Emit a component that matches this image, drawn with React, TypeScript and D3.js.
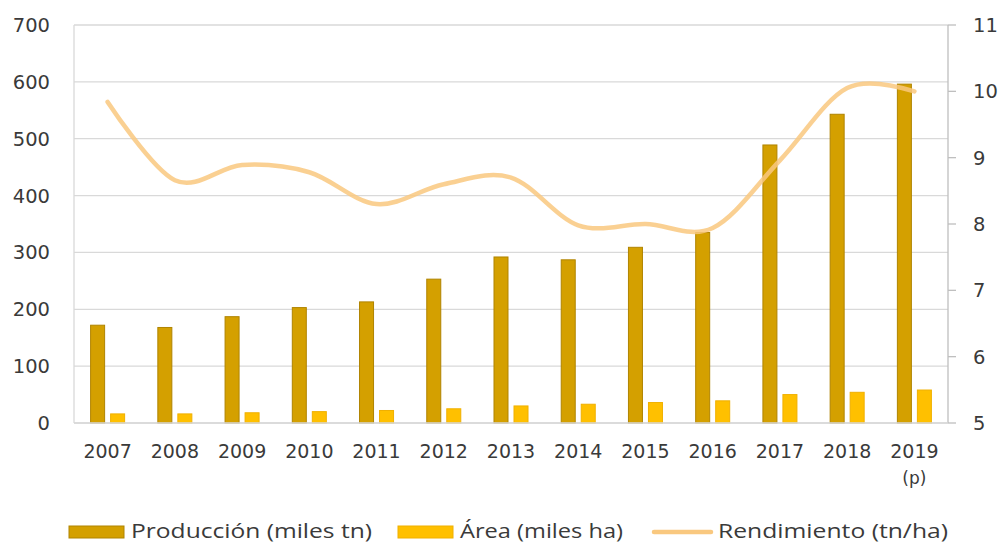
import React from 'react';
import * as d3 from 'd3';

const years = ['2007', '2008', '2009', '2010', '2011', '2012', '2013', '2014', '2015', '2016', '2017', '2018', '2019'];
const produccion = [172, 168, 187, 203, 213, 253, 292, 287, 309, 335, 489, 543, 596];
const area = [16, 16, 18, 20, 22, 25, 30, 33, 36, 39, 50, 54, 58];
const rendimiento = [9.84, 8.66, 8.89, 8.78, 8.3, 8.6, 8.7, 7.98, 8.0, 7.94, 8.96, 10.05, 10.0];
const leftTicks = [0, 100, 200, 300, 400, 500, 600, 700];
const rightTicks = [5, 6, 7, 8, 9, 10, 11];

const width = 1000;
const height = 544;
const margin = { top: 25, right: 52, bottom: 121, left: 74 };

const App = () => {
  const x = d3.scaleBand<string>().domain(years).range([margin.left, width - margin.right]).padding(0);
  const inner = d3
    .scaleBand<string>()
    .domain(['prod', 'area'])
    .range([0, x.bandwidth()])
    .paddingInner(0.3)
    .paddingOuter(0.83);
  const yLeft = d3.scaleLinear().domain([0, 700]).range([height - margin.bottom, margin.top]);
  const yRight = d3.scaleLinear().domain([5, 11]).range([height - margin.bottom, margin.top]);

  // smoothed line like the spreadsheet's "smooth line" option
  const line = d3
    .line<number>()
    .x((_, i) => (x(years[i]) as number) + x.bandwidth() / 2)
    .y((d) => yRight(d))
    .curve(d3.curveCardinal.tension(0));

  const x0 = margin.left;
  const x1 = width - margin.right;
  const yBase = yLeft(0);
  const textColor = '#3a3a3a';
  const axisFont = 'DejaVu Sans, Verdana, sans-serif';
  const legendFont = 'Open Sans, Noto Sans, sans-serif';

  return (
    <svg width={width} height={height} style={{ position: 'absolute', left: 0, top: 0, background: '#fff' }}>
      {/* gridlines */}
      {leftTicks.map((t) => (
        <line key={'g' + t} x1={x0} x2={x1} y1={yLeft(t)} y2={yLeft(t)} stroke="#d9d9d9" strokeWidth={1.3} />
      ))}
      <line x1={x0} x2={x0} y1={margin.top} y2={yBase} stroke="#d9d9d9" strokeWidth={1.3} />
      {/* right axis */}
      <line x1={x1} x2={x1} y1={margin.top} y2={yBase} stroke="#bfbfbf" strokeWidth={1.3} />
      {rightTicks.map((t) => (
        <g key={'r' + t}>
          <line x1={x1} x2={x1 + 8} y1={yRight(t)} y2={yRight(t)} stroke="#bfbfbf" strokeWidth={1.3} />
          <text x={973} y={yRight(t)} dy="0.36em" fontSize={19.5} fill={textColor} fontFamily={axisFont}>
            {t}
          </text>
        </g>
      ))}
      {/* left axis labels */}
      {leftTicks.map((t) => (
        <text key={'l' + t} x={50} y={yLeft(t)} dy="0.36em" textAnchor="end" fontSize={19.5} fill={textColor} fontFamily={axisFont}>
          {t}
        </text>
      ))}

      {/* bars */}
      {years.map((yr, i) => (
        <g key={'b' + yr}>
          <rect
            x={(x(yr) as number) + (inner('prod') as number)}
            y={yLeft(produccion[i])}
            width={inner.bandwidth()}
            height={yBase - yLeft(produccion[i])}
            fill="#d4a000"
            stroke="#b08400"
            strokeWidth={1}
          />
          <rect
            x={(x(yr) as number) + (inner('area') as number)}
            y={yLeft(area[i])}
            width={inner.bandwidth()}
            height={yBase - yLeft(area[i])}
            fill="#ffc000"
            stroke="#f0b000"
            strokeWidth={1}
          />
        </g>
      ))}
      <line x1={x0} x2={x1} y1={yBase} y2={yBase} stroke="#d9d9d9" strokeWidth={1.3} />

      {/* rendimiento line */}
      <path d={line(rendimiento) || ''} fill="none" stroke="#f9c87f" strokeOpacity={0.85} strokeWidth={4.5} strokeLinecap="round" />

      {/* x labels */}
      {years.map((yr) => (
        <text
          key={'x' + yr}
          x={(x(yr) as number) + x.bandwidth() / 2}
          y={458}
          textAnchor="middle"
          fontSize={19}
          fill={textColor}
          fontFamily={axisFont}
        >
          {yr}
        </text>
      ))}
      <text
        x={(x('2019') as number) + x.bandwidth() / 2}
        y={484}
        textAnchor="middle"
        fontSize={17}
        fill={textColor}
        fontFamily={axisFont}
      >
        (p)
      </text>

      {/* legend */}
      <rect x={69} y={526} width={55} height={12} fill="#d4a000" stroke="#b08400" strokeWidth={1} />
      <text x={131} y={538} fontSize={20} fill={textColor} fontFamily={legendFont} textLength={241} lengthAdjust="spacingAndGlyphs">
        Producción (miles tn)
      </text>
      <rect x={398} y={526} width={55} height={12} fill="#ffc000" stroke="#f0b000" strokeWidth={1} />
      <text x={460} y={538} fontSize={20} fill={textColor} fontFamily={legendFont} textLength={163} lengthAdjust="spacingAndGlyphs">
        Área (miles ha)
      </text>
      <line x1={654} x2={711} y1={532} y2={532} stroke="#f9c87f" strokeWidth={4.5} strokeLinecap="round" />
      <text x={718} y={538} fontSize={20} fill={textColor} fontFamily={legendFont} textLength={230} lengthAdjust="spacingAndGlyphs">
        Rendimiento (tn/ha)
      </text>
    </svg>
  );
};

export default App;
